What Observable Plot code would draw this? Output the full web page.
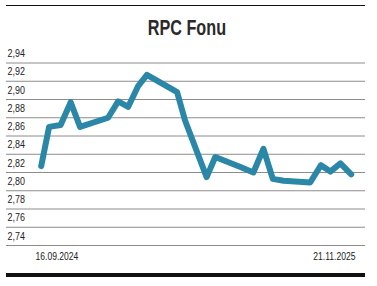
<!DOCTYPE html>
<html>
<head>
<meta charset="utf-8">
<script src="https://cdn.jsdelivr.net/npm/d3@7"></script>
<script src="https://cdn.jsdelivr.net/npm/@observablehq/plot@0.6"></script>
<style>
  html, body { margin: 0; padding: 0; background: #fff; }
  body { width: 377px; height: 286px; position: relative; overflow: hidden;
         font-family: "Liberation Sans", Arial, sans-serif; }
  #toprule { position: absolute; left: 6px; top: 5px; width: 359px; height: 1px; background: #111; }
  #title { position: absolute; left: 9px; top: 7px; width: 356px; height: 40px; line-height: 40px;
           text-align: center; margin: 0; font-weight: normal; }
  #title span { display: inline-block; font-size: 21.9px; font-weight: bold; color: #2a2a2a;
                transform: scaleX(0.74); transform-origin: center center; }
  #chart { position: absolute; left: 0; top: 40px; }
  #bottombar { position: absolute; left: 6px; top: 273px; width: 359px; height: 4px; background: #111; }
</style>
</head>
<body>
<div id="toprule"></div>
<h2 id="title"><span>RPC Fonu</span></h2>
<div id="chart"></div>
<div id="bottombar"></div>
<script>
const dates = [
  "2024-09-16","2024-09-27","2024-10-13","2024-10-27","2024-11-09","2024-12-18",
  "2025-01-01","2025-01-15","2025-01-29","2025-02-10","2025-03-24","2025-04-04",
  "2025-05-04","2025-05-16","2025-06-20","2025-07-08","2025-07-22","2025-08-04",
  "2025-08-19","2025-09-25","2025-10-10","2025-10-23","2025-11-06","2025-11-21"
];
const values = [
  2.827, 2.870, 2.872, 2.897, 2.870, 2.880,
  2.898, 2.892, 2.915, 2.927, 2.908, 2.877,
  2.815, 2.837, 2.826, 2.820, 2.846, 2.813,
  2.811, 2.809, 2.828, 2.821, 2.830, 2.818
];
const yTicks = [2.74, 2.76, 2.78, 2.80, 2.82, 2.84, 2.86, 2.88, 2.90, 2.92, 2.94];
const yTickLabels = ["2,74","2,76","2,78","2,80","2,82","2,84","2,86","2,88","2,90","2,92","2,94"];
const dateLabels = ["16.09.2024", "21.11.2025"];

const data = dates.map((d, i) => ({date: new Date(d), value: values[i]}));
const first = data[0].date, last = data[data.length - 1].date;

const chart = Plot.plot({
  width: 377,
  height: 246,
  marginLeft: 6,
  marginRight: 12,
  marginTop: 22.5,
  marginBottom: 41,
  style: {fontFamily: "'Liberation Sans', Arial, sans-serif", color: "#222", background: "transparent"},
  x: {type: "utc", domain: [first, last], insetLeft: 34.7, insetRight: 14.3, axis: null},
  y: {domain: [2.74, 2.94], axis: null},
  marks: [
    Plot.ruleY(yTicks, {stroke: "#8c8c8c", strokeWidth: 1}),
    Plot.text(yTicks, {y: d => d, text: (d, i) => yTickLabels[i], frameAnchor: "left",
      textAnchor: "start", dx: 1, dy: -9.5, fontSize: 11.6, fill: "#222", className: "ylab"}),
    Plot.line(data, {x: "date", y: "value", stroke: "#2b87a7", strokeWidth: 6,
      strokeLinejoin: "round", strokeLinecap: "round"}),
    Plot.text([first], {x: d => d, text: [dateLabels[0]], frameAnchor: "bottom",
      textAnchor: "start", dx: -5.7, dy: 14, fontSize: 10.7, fill: "#222", className: "dlab"}),
    Plot.text([last], {x: d => d, text: [dateLabels[1]], frameAnchor: "bottom",
      textAnchor: "end", dx: 4.3, dy: 14, fontSize: 10.7, fill: "#222", className: "dlab"})
  ]
});

// condense the text horizontally (the reference uses a condensed typeface)
function condense(selector, s) {
  chart.querySelectorAll(selector + " text").forEach(t => {
    const tr = t.getAttribute("transform") || "";
    const xa = t.getAttribute("x");
    let pre = "";
    if (xa !== null && /^-?[\d.]+$/.test(xa)) {
      pre = ` translate(${xa},0)`;
      t.setAttribute("x", 0);
    }
    t.setAttribute("transform", `${tr}${pre} scale(${s},1)`);
  });
}
condense(".ylab", 0.77);
condense(".dlab", 0.8);

document.getElementById("chart").appendChild(chart);
</script>
</body>
</html>
